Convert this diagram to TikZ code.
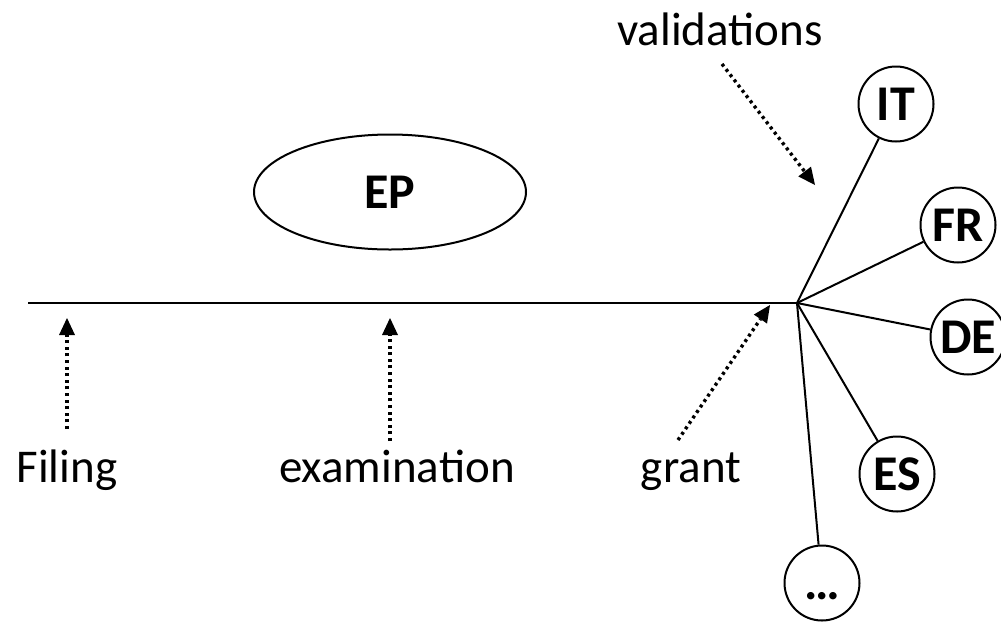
\documentclass[tikz,border=0pt]{standalone}
\usepackage{fontspec}
\setmainfont{Carlito}
\usetikzlibrary{shapes.geometric,arrows.meta}

\begin{document}
\begin{tikzpicture}[x=1pt,y=-1pt,line width=2pt,
    country/.style={circle,draw,minimum size=75pt,inner sep=0pt,
      text height=32pt,text depth=0pt,font=\fontsize{50}{60}\selectfont\bfseries},
    stage/.style={anchor=base,font=\fontsize{47}{56}\selectfont},
    dotarrow/.style={line width=3.4pt,dash pattern=on 3pt off 3.6pt,
      -{Triangle[length=17pt,width=16pt,line width=0pt]}}]
  \useasboundingbox (0,0) rectangle (1001,622);

  % timeline
  \coordinate (start) at (28,303);
  \coordinate (hub) at (797,303);
  \draw (start) -- (hub);

  \node[ellipse,draw,minimum width=272pt,minimum height=115pt,
    font=\fontsize{50}{60}\selectfont\bfseries] (ep) at (390,192) {EP};

  % national phase
  \foreach \nm/\txt/\x/\y in {it/IT/896/104, fr/FR/958/225, de/DE/968/337,
                            es/ES/897/474, more/\ldots/822/583} {
    \node[country] (\nm) at (\x,\y) {\txt};
    \draw (hub) -- (\nm);
  }

  % stages
  \node[stage] (filing) at (67,482) {Filing};
  \node[stage] (exam) at (397,482) {examination};
  \node[stage] (grant) at (691,482) {grant};
  \node[stage] (valid) at (720,45) {validations};

  \coordinate (filing-tip) at (67,318);
  \coordinate (filing-tail) at (67,429);
  \coordinate (exam-tip) at (390,318);
  \coordinate (exam-tail) at (390,441);
  \coordinate (grant-tip) at (770,305);
  \coordinate (grant-tail) at (678,440);
  \coordinate (valid-tip) at (815,185);
  \coordinate (valid-tail) at (722,64);

  \foreach \s in {filing,exam,grant,valid}
    \draw[dotarrow] (\s-tail) -- (\s-tip);
\end{tikzpicture}
\end{document}
